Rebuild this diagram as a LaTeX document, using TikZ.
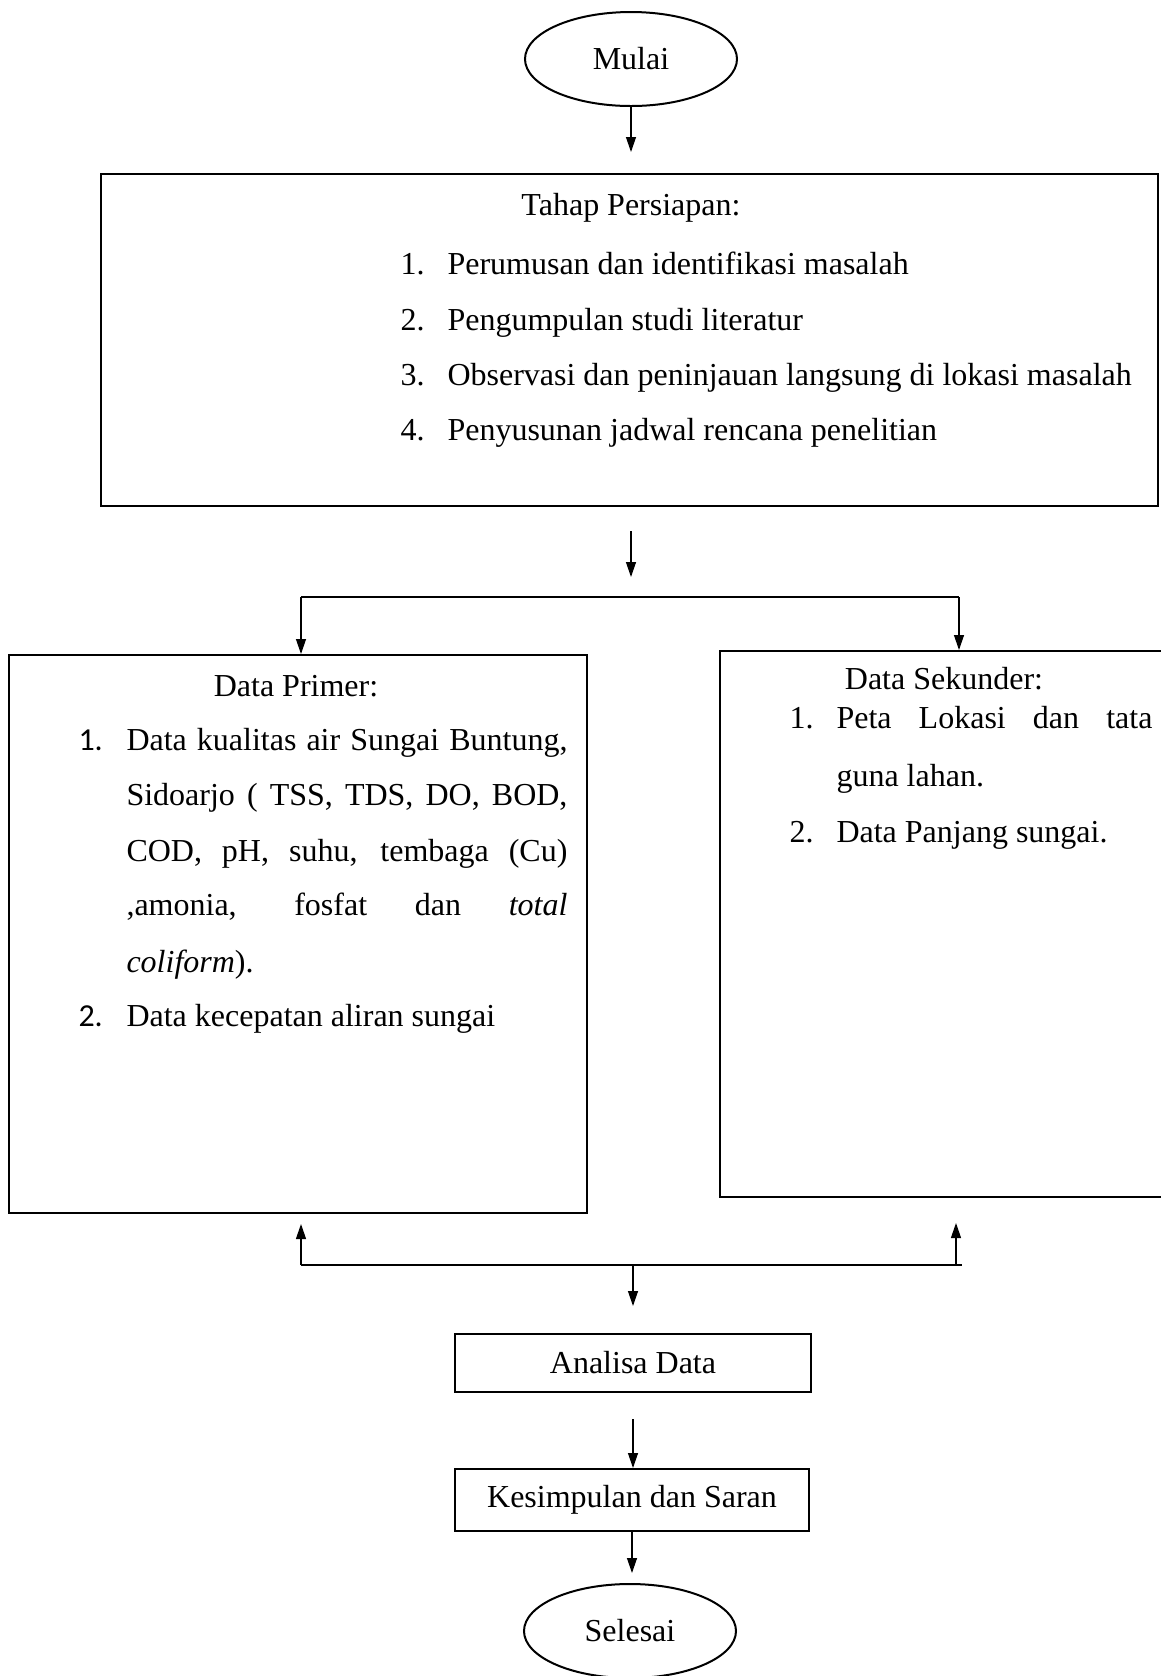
\documentclass[tikz,border=0pt]{standalone}
\usepackage{fontspec}
\setmainfont{Liberation Serif}
\newfontfamily\numfont{Carlito}
\usetikzlibrary{arrows.meta,shapes.geometric}
\begin{document}
\begin{tikzpicture}[x=0.4pt,y=-0.4pt,
  every node/.style={font=\fontsize{12.8}{15}\selectfont},
  box/.style={draw, line width=0.8pt, rectangle, inner sep=0pt},
  oval/.style={draw, line width=0.8pt, ellipse, inner sep=0pt, minimum width=84.8pt, minimum height=37.6pt},
  conn/.style={line width=0.5pt},
  arr/.style={conn, -{Triangle[length=6pt,width=4pt]}},
  txt/.style={inner sep=0pt, text height=9pt, text depth=2.7pt},
  lt/.style={txt, anchor=west}]
\useasboundingbox (0,0) rectangle (1161,1676);
\clip (0,0) rectangle (1161,1676);

% shapes
\node[oval] (mulai) at (631,59) {Mulai};
\node[box, minimum width=422.8pt, minimum height=132.8pt] (tahap) at (629.5,340) {};
\node[box, minimum width=231.2pt, minimum height=223.2pt] (primer) at (298,934) {};
\node[box, minimum width=182pt, minimum height=218.4pt] (sekunder) at (947.5,924) {};
\node[box, minimum width=142.4pt, minimum height=23.2pt] (analisa) at (633,1363) {Analisa Data};
\node[box, minimum width=141.6pt, minimum height=24.8pt] (kesimpulan) at (632,1500) {Kesimpulan dan Saran};
\node[oval] (selesai) at (630,1631) {Selesai};

% Tahap text
\node[txt] (tt) at (631,208) {Tahap Persiapan:};
\node[lt] (t1n) at (400,267) {1.};
\node[lt] (t1) at (447,267) {Perumusan dan identifikasi masalah};
\node[lt] (t2n) at (400,323) {2.};
\node[lt] (t2) at (447,323) {Pengumpulan studi literatur};
\node[lt] (t3n) at (400,378) {3.};
\node[lt] (t3) at (447,378) {Observasi dan peninjauan langsung di lokasi masalah};
\node[lt] (t4n) at (400,433) {4.};
\node[lt] (t4) at (447,433) {Penyusunan jadwal rencana penelitian};

% Primer text
\node[txt] (pt) at (296,689) {Data Primer:};
\node[lt] (p1n) at (78,743) {\numfont 1.};
\node[lt] (p1a) at (126,743) {\makebox[176.4pt][s]{Data kualitas air Sungai Buntung,}};
\node[lt] (p1b) at (126,798) {\makebox[176.4pt][s]{Sidoarjo ( TSS, TDS, DO, BOD,}};
\node[lt] (p1c) at (126,854) {\makebox[176.4pt][s]{COD, pH, suhu, tembaga (Cu)}};
\node[lt] (p1d) at (126,908) {\makebox[176.4pt][s]{,amonia, fosfat dan \textit{total}}};
\node[lt] (p1e) at (126,965) {\textit{coliform}).};
\node[lt] (p2n) at (78,1019) {\numfont 2.};
\node[lt] (p2) at (126,1019) {Data kecepatan aliran sungai};

% Sekunder text
\node[txt] (st) at (944,682) {Data Sekunder:};
\node[lt] (s1n) at (789,721) {1.};
\node[lt] (s1a) at (836,721) {\makebox[126.4pt][s]{Peta Lokasi dan tata}};
\node[lt] (s1b) at (836,779) {guna lahan.};
\node[lt] (s2n) at (789,835) {2.};
\node[lt] (s2) at (836,835) {Data Panjang sungai.};

% connector coordinates
\coordinate (a1) at (631,152);
\coordinate (b0) at (631,531);
\coordinate (b1) at (631,577);
\coordinate (hl) at (301,597);
\coordinate (hr) at (959,597);
\coordinate (ul) at (301,1265);
\coordinate (ur) at (956,1265);
\coordinate (ure) at (962,1265);
\coordinate (um) at (633,1265);
\coordinate (dm) at (633,1306);
\coordinate (c0) at (633,1419);

% connectors
\draw[arr] (mulai.south) -- (a1);
\draw[arr] (b0) -- (b1);
\draw[conn] (hl) -- (hr);
\draw[arr] (hl) -- (hl |- primer.north);
\draw[arr] (hr) -- (hr |- sekunder.north);
\draw[conn] (ul) -- (ure);
\draw[arr] (ul) -- ++(0,-41);
\draw[arr] (ur) -- ++(0,-42);
\draw[arr] (um) -- (dm);
\draw[arr] (c0) -- (c0 |- kesimpulan.north);
\draw[arr] (kesimpulan.south) -- ++(0,41);
\end{tikzpicture}
\end{document}
